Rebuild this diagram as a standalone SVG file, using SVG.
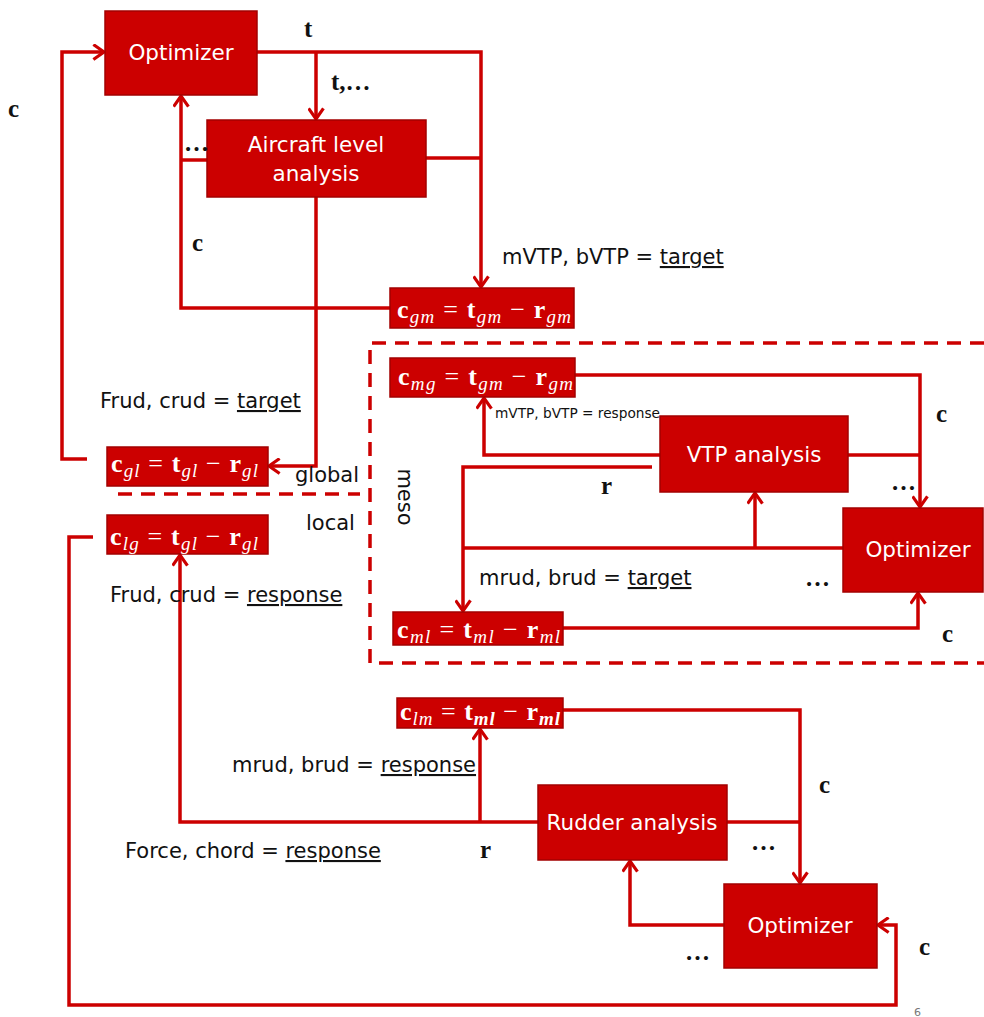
<svg xmlns="http://www.w3.org/2000/svg" width="984" height="1017" viewBox="0 0 984 1017">
<style>
.box{fill:#CC0000;stroke:#A30000;stroke-width:1.5}
.bt{font-family:"DejaVu Sans",sans-serif;font-size:21.5px;fill:#fff;text-anchor:middle}
.ln{fill:none;stroke:#CC0000;stroke-width:3.5}
.ds{fill:none;stroke:#CC0000;stroke-width:3.5;stroke-dasharray:14 9}
.lb{font-family:"DejaVu Sans",sans-serif;font-size:21px;fill:#111}
.mv{font-family:"Liberation Serif",serif;font-weight:bold;font-size:25px;fill:#111}
.eq{font-family:"Liberation Serif",serif;font-size:26px;fill:#fff}
.b{font-weight:bold}
.s{font-style:italic;font-size:19px}
.u{text-decoration:underline}
</style>
<defs>
<marker id="ar" markerUnits="userSpaceOnUse" viewBox="0 0 12 16" refX="11" refY="8" markerWidth="13" markerHeight="17" orient="auto">
<path d="M1,1 L11,8 L1,15" fill="none" stroke="#CC0000" stroke-width="3"/>
</marker>
</defs>
<g id="connectors">
<path class="ln" d="M87,459 H62 V52 H104" marker-end="url(#ar)"/>
<path class="ln" d="M257,52 H481 V287" marker-end="url(#ar)"/>
<path class="ln" d="M316,52 V119" marker-end="url(#ar)"/>
<path class="ln" d="M426,158 H481"/>
<path class="ln" d="M390,308 H181 V96" marker-end="url(#ar)"/>
<path class="ln" d="M207,160 H181"/>
<path class="ln" d="M316,197 V466 H269" marker-end="url(#ar)"/>
<path class="ln" d="M575,375 H920 V507" marker-end="url(#ar)"/>
<path class="ln" d="M660,455 H484 V398" marker-end="url(#ar)"/>
<path class="ln" d="M848,455 H920"/>
<path class="ln" d="M652,467 H463 V611" marker-end="url(#ar)"/>
<path class="ln" d="M843,548 H463"/>
<path class="ln" d="M755,548 V493" marker-end="url(#ar)"/>
<path class="ln" d="M563,628 H918 V593" marker-end="url(#ar)"/>
<path class="ln" d="M563,710 H800 V883" marker-end="url(#ar)"/>
<path class="ln" d="M727,822 H800"/>
<path class="ln" d="M538,822 H180 V555" marker-end="url(#ar)"/>
<path class="ln" d="M480,822 V729" marker-end="url(#ar)"/>
<path class="ln" d="M724,925 H630 V861" marker-end="url(#ar)"/>
<path class="ln" d="M93,537 H69 V1005 H896 V925 H878" marker-end="url(#ar)"/>
<path class="ds" d="M984,343 H370 V663 H984"/>
<path class="ds" d="M118,494 H360"/>
</g>
<g id="opt-top"><rect class="box" x="105" y="11" width="152" height="84"/><text class="bt" x="181" y="60">Optimizer</text></g>
<g id="aircraft"><rect class="box" x="207" y="120" width="219" height="77"/><text class="bt" x="316" y="152">Aircraft level</text><text class="bt" x="316" y="181">analysis</text></g>
<g id="cgm"><rect class="box" x="390" y="288" width="184" height="40"/><text class="eq" x="397" y="318" textLength="174" lengthAdjust="spacing"><tspan class="b">c</tspan><tspan class="s" dy="5">gm</tspan><tspan dy="-5"> = </tspan><tspan class="b">t</tspan><tspan class="s" dy="5">gm</tspan><tspan dy="-5"> − </tspan><tspan class="b">r</tspan><tspan class="s" dy="5">gm</tspan></text></g>
<g id="cmg"><rect class="box" x="390" y="358" width="185" height="39"/><text class="eq" x="398" y="385" textLength="175" lengthAdjust="spacing"><tspan class="b">c</tspan><tspan class="s" dy="5">mg</tspan><tspan dy="-5"> = </tspan><tspan class="b">t</tspan><tspan class="s" dy="5">gm</tspan><tspan dy="-5"> − </tspan><tspan class="b">r</tspan><tspan class="s" dy="5">gm</tspan></text></g>
<g id="cgl"><rect class="box" x="107" y="447" width="161" height="39"/><text class="eq" x="111" y="472" textLength="147" lengthAdjust="spacing"><tspan class="b">c</tspan><tspan class="s" dy="5">gl</tspan><tspan dy="-5"> = </tspan><tspan class="b">t</tspan><tspan class="s" dy="5">gl</tspan><tspan dy="-5"> − </tspan><tspan class="b">r</tspan><tspan class="s" dy="5">gl</tspan></text></g>
<g id="clg"><rect class="box" x="107" y="515" width="161" height="39"/><text class="eq" x="110" y="545" textLength="148" lengthAdjust="spacing"><tspan class="b">c</tspan><tspan class="s" dy="5">lg</tspan><tspan dy="-5"> = </tspan><tspan class="b">t</tspan><tspan class="s" dy="5">gl</tspan><tspan dy="-5"> − </tspan><tspan class="b">r</tspan><tspan class="s" dy="5">gl</tspan></text></g>
<g id="vtp"><rect class="box" x="660" y="416" width="188" height="76"/><text class="bt" x="754" y="462">VTP analysis</text></g>
<g id="opt-meso"><rect class="box" x="843" y="508" width="140" height="84"/><text class="bt" x="918" y="557">Optimizer</text></g>
<g id="cml"><rect class="box" x="393" y="612" width="170" height="33"/><text class="eq" x="397" y="638" textLength="163" lengthAdjust="spacing"><tspan class="b">c</tspan><tspan class="s" dy="5">ml</tspan><tspan dy="-5"> = </tspan><tspan class="b">t</tspan><tspan class="s" dy="5">ml</tspan><tspan dy="-5"> − </tspan><tspan class="b">r</tspan><tspan class="s" dy="5">ml</tspan></text></g>
<g id="clm"><rect class="box" x="397" y="698" width="166" height="30"/><text class="eq" x="400" y="720" textLength="160" lengthAdjust="spacing"><tspan class="b">c</tspan><tspan class="s" dy="5">lm</tspan><tspan dy="-5"> = </tspan><tspan class="b">t</tspan><tspan class="s b" dy="5">ml</tspan><tspan dy="-5"> − </tspan><tspan class="b">r</tspan><tspan class="s b" dy="5">ml</tspan></text></g>
<g id="rudder"><rect class="box" x="538" y="785" width="189" height="75"/><text class="bt" x="632" y="830">Rudder analysis</text></g>
<g id="opt-bottom"><rect class="box" x="724" y="884" width="153" height="84"/><text class="bt" x="800" y="933">Optimizer</text></g>
<g id="labels">
<text class="mv" x="304" y="37">t</text>
<text class="mv" x="331" y="90">t,…</text>
<text class="mv" x="8" y="117">c</text>
<text class="mv" x="192" y="251">c</text>
<text class="mv" x="184" y="151">…</text>
<text class="lb" x="502" y="264">mVTP, bVTP = <tspan class="u">target</tspan></text>
<text class="lb" x="495" y="418" style="font-size:13.7px">mVTP, bVTP = response</text>
<text class="lb" x="100" y="408">Frud, crud = <tspan class="u">target</tspan></text>
<text class="lb" x="295" y="482">global</text>
<text class="lb" x="306" y="530">local</text>
<text class="lb" x="398" y="497" text-anchor="middle" transform="rotate(90 398 497)">meso</text>
<text class="mv" x="601" y="494">r</text>
<text class="mv" x="936" y="422">c</text>
<text class="mv" x="891" y="490">…</text>
<text class="mv" x="805" y="586">…</text>
<text class="mv" x="942" y="642">c</text>
<text class="lb" x="479" y="585">mrud, brud = <tspan class="u">target</tspan></text>
<text class="lb" x="110" y="602">Frud, crud = <tspan class="u">response</tspan></text>
<text class="lb" x="232" y="772">mrud, brud = <tspan class="u">response</tspan></text>
<text class="lb" x="125" y="858">Force, chord = <tspan class="u">response</tspan></text>
<text class="mv" x="480" y="858">r</text>
<text class="mv" x="819" y="793">c</text>
<text class="mv" x="751" y="850">…</text>
<text class="mv" x="685" y="960">…</text>
<text class="mv" x="919" y="955">c</text>
<text x="914" y="1016" style="font-family:'DejaVu Sans',sans-serif;font-size:11px;fill:#777">6</text>
</g>
</svg>
